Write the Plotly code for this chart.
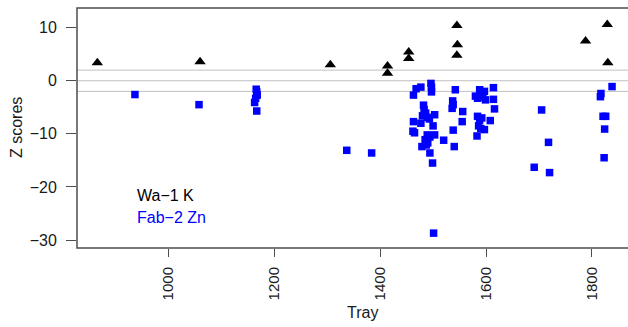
import plotly.graph_objects as go

# Wa-1 K (black triangles)
wa1_tray = [866, 1060, 1306, 1414, 1414, 1454, 1454, 1545, 1546, 1545, 1788, 1829, 1830]
wa1_z = [3.4, 3.6, 3.0, 2.8, 1.4, 5.4, 4.2, 10.4, 6.8, 4.8, 7.5, 10.6, 3.4]

# Fab-2 Zn (blue squares)
fab2_tray = [937, 1058, 1166, 1167, 1168, 1165, 1163, 1167, 1337, 1384,
             1463, 1468, 1477, 1496, 1497, 1497, 1482, 1483, 1486, 1480,
             1489, 1503, 1493, 1463, 1477, 1500, 1462, 1465, 1489, 1494,
             1503, 1485, 1490, 1479, 1487, 1520, 1494, 1499, 1501,
             1542, 1537, 1538, 1536, 1556, 1555, 1538, 1540,
             1588, 1597, 1580, 1584, 1590, 1594, 1599, 1592, 1614, 1614,
             1616, 1608, 1584, 1592, 1588, 1586, 1597, 1590, 1583,
             1705, 1718, 1691, 1720, 1838, 1817, 1816, 1821, 1826, 1824, 1823]
fab2_z = [-2.6, -4.5, -1.6, -2.1, -2.7, -3.3, -4.1, -5.7, -13.1, -13.6,
          -2.7, -1.5, -1.2, -0.5, -1.2, -2.1, -4.6, -5.4, -6.1, -6.6,
          -6.9, -6.4, -7.2, -7.7, -8.0, -8.5, -9.5, -9.8, -10.2, -10.6,
          -10.2, -11.1, -11.7, -12.4, -12.1, -11.2, -13.6, -15.5, -28.7,
          -1.7, -3.8, -4.5, -5.2, -5.8, -7.7, -9.3, -12.4,
          -1.7, -2.0, -2.9, -3.3, -2.6, -3.1, -3.6, -2.2, -1.3, -3.5,
          -5.3, -7.5, -6.7, -7.0, -7.4, -8.5, -9.2, -9.0, -10.4,
          -5.5, -11.6, -16.3, -17.3, -1.1, -2.4, -3.0, -6.7, -6.7, -9.1, -14.5]

x_ticks = [1000, 1200, 1400, 1600, 1800]
y_ticks = [10, 0, -10, -20, -30]
ref_lines = [2, 0, -2]

FONT = "Liberation Sans, Arial, Helvetica, sans-serif"
AXIS_COL = "#4d4d4d"

fig = go.Figure()

fig.add_trace(go.Scatter(
    x=wa1_tray, y=wa1_z, mode="markers", name="Wa-1 K",
    marker=dict(symbol="triangle-up", size=10, color="black", line=dict(width=0)),
))
fig.add_trace(go.Scatter(
    x=fab2_tray, y=fab2_z, mode="markers", name="Fab-2 Zn",
    marker=dict(symbol="square", size=7.5, color="#0000FF", line=dict(width=0)),
))

for v in ref_lines:
    fig.add_shape(type="line", xref="paper", x0=0, x1=1, yref="y", y0=v, y1=v,
                  line=dict(color="#c0c0c0", width=1), layer="below")

# box border (R-style frame; right side falls outside the visible window)
fig.add_shape(type="rect", xref="paper", x0=0, x1=1, yref="paper", y0=0, y1=1,
              line=dict(color=AXIS_COL, width=1.5))

fig.update_layout(
    width=660, height=327,
    margin=dict(l=77, r=13, t=8, b=79, autoexpand=False),
    paper_bgcolor="white", plot_bgcolor="white",
    showlegend=False,
    font=dict(family=FONT, size=16, color="#1a1a1a"),
    xaxis=dict(range=[827.6, 1904], tickvals=x_ticks, ticktext=[str(t) for t in x_ticks],
               tickangle=-90, ticks="outside", ticklen=8, tickcolor=AXIS_COL,
               showline=False, showgrid=False,
               zeroline=False, tickfont=dict(size=15), ticklabelstandoff=4,
               automargin=False),
    yaxis=dict(range=[-31.5, 13.7], tickvals=y_ticks,
               ticks="outside", ticklen=10, tickcolor=AXIS_COL,
               showline=False, showgrid=False,
               zeroline=False, tickfont=dict(size=16), ticklabelstandoff=6,
               automargin=False),
)

fig.add_annotation(text="Tray", xref="paper", yref="paper", x=0.5, y=-0.27,
                   xanchor="center", yanchor="middle", showarrow=False,
                   font=dict(size=16, family=FONT, color="#1a1a1a"))
fig.add_annotation(text="Z scores", xref="paper", yref="paper", x=-0.107, y=0.5,
                   textangle=-90, xanchor="center", yanchor="middle", showarrow=False,
                   font=dict(size=16, family=FONT, color="#1a1a1a"))
fig.add_annotation(text="Wa\u22121 K", xref="paper", yref="paper", x=0.1018, y=0.2167,
                   xanchor="left", yanchor="middle", showarrow=False,
                   font=dict(size=16, family=FONT, color="black"))
fig.add_annotation(text="Fab\u22122 Zn", xref="paper", yref="paper", x=0.1018, y=0.129,
                   xanchor="left", yanchor="middle", showarrow=False,
                   font=dict(size=16, family=FONT, color="#0000FF"))

fig.write_html("out.html", config={"displayModeBar": False},
               post_script="document.body.style.margin='0';document.body.style.overflow='hidden';")
